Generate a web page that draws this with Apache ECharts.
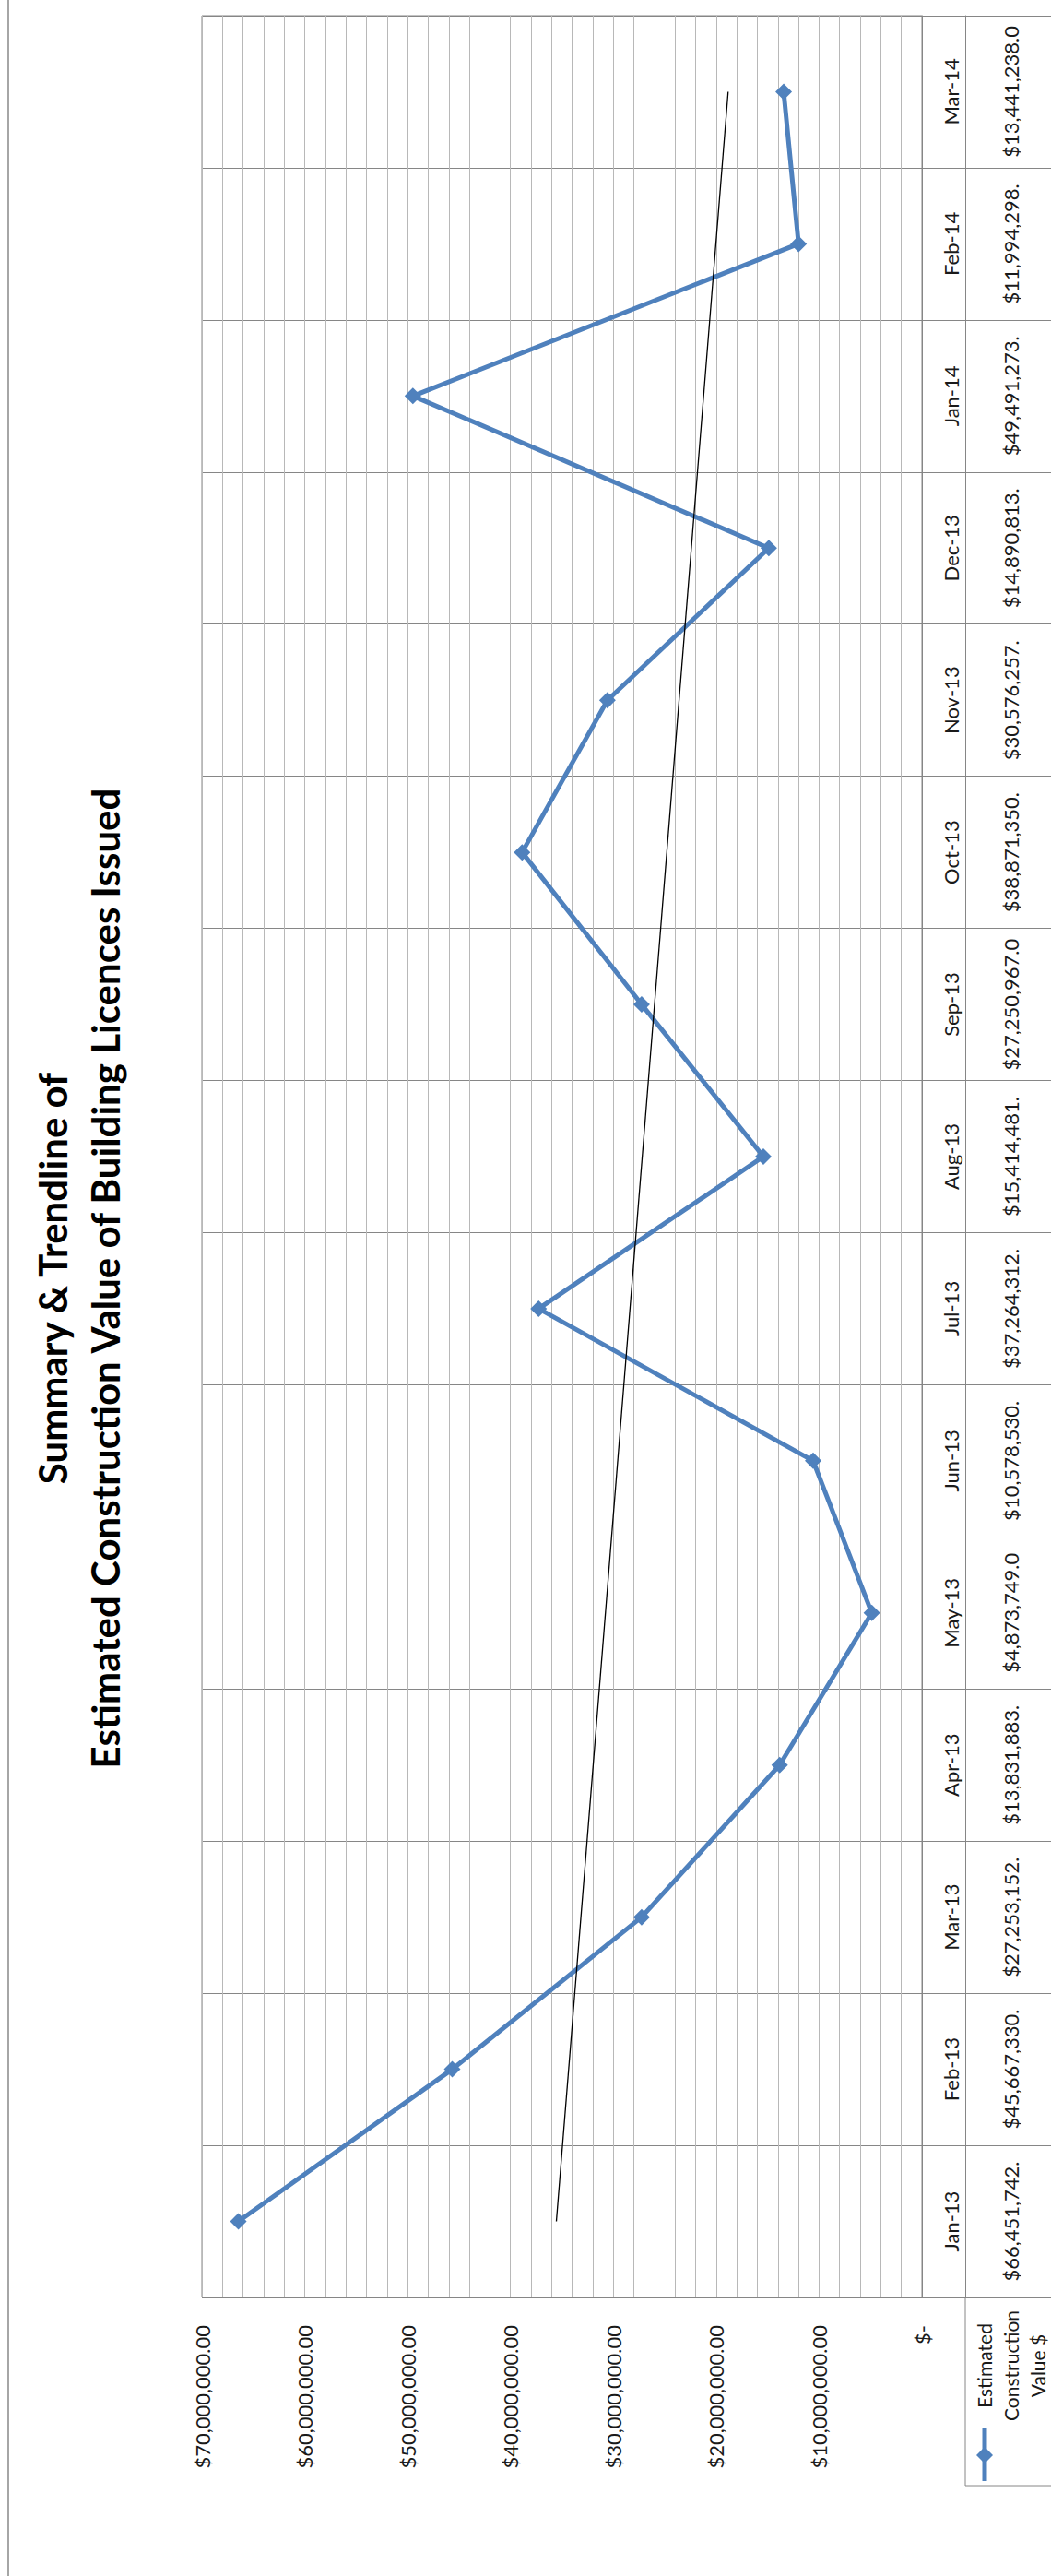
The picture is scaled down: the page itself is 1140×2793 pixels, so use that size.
<!DOCTYPE html>
<html>
<head>
<meta charset="utf-8">
<title>Summary & Trendline of Estimated Construction Value of Building Licences Issued</title>
<script src="https://cdn.jsdelivr.net/npm/echarts@6/dist/echarts.min.js"></script>
<style>
  html, body { margin: 0; padding: 0; background: #ffffff; }
  #chart { width: 1140px; height: 2793px; }
</style>
</head>
<body>
<div id="chart"></div>
<script>
// ---- data ----
const categories = ['Jan-13', 'Feb-13', 'Mar-13', 'Apr-13', 'May-13', 'Jun-13', 'Jul-13',
  'Aug-13', 'Sep-13', 'Oct-13', 'Nov-13', 'Dec-13', 'Jan-14', 'Feb-14', 'Mar-14'];
const constructionValues = [66451742, 45667330, 27253152, 13831883, 4873749, 10578530, 37264312,
  15414481, 27250967, 38871350, 30576257, 14890813, 49491273, 11994298, 13441238];
const tableText = ['$66,451,742.', '$45,667,330.', '$27,253,152.', '$13,831,883.', '$4,873,749.0',
  '$10,578,530.', '$37,264,312.', '$15,414,481.', '$27,250,967.0', '$38,871,350.', '$30,576,257.',
  '$14,890,813.', '$49,491,273.', '$11,994,298.', '$13,441,238.0'];
const trendlineEnds = [35540000, 18840000]; // trendline value at Jan-13 and at Mar-14
const valueAxisLabels = ['$-', '$10,000,000.00', '$20,000,000.00', '$30,000,000.00',
  '$40,000,000.00', '$50,000,000.00', '$60,000,000.00', '$70,000,000.00'];
const titleLines = ['Summary & Trendline of', 'Estimated Construction Value of Building Licences Issued'];
const seriesName = 'Estimated Construction Value $';
const legendLines = ['Estimated', 'Construction', 'Value $'];

// ---- chart ----
const FONT = 'Lato, "Open Sans", "DejaVu Sans", sans-serif';
const TEXT = '#1a1a1a';
const BLUE = '#4F81BD';
const GRID = '#b8b8b8';
const DARK = '#868686';

const trendData = categories.map((c, i) =>
  i === 0 ? trendlineEnds[0] : (i === categories.length - 1 ? trendlineEnds[1] : null));

const chart = echarts.init(document.getElementById('chart'), null, { renderer: 'svg' });

const option = {
  backgroundColor: '#ffffff',
  animation: false,
  textStyle: { fontFamily: FONT },
  grid: {
    left: 219, right: 140, top: 17, bottom: 302,
    show: true, borderColor: DARK, borderWidth: 1, backgroundColor: 'transparent'
  },
  xAxis: {
    type: 'value',
    min: 0, max: 70000000, interval: 10000000,
    inverse: true,
    position: 'bottom',
    axisLine: { show: false },
    axisTick: { show: false },
    minorTick: { show: false, splitNumber: 5 },
    splitLine: { show: true, lineStyle: { color: GRID, width: 1 } },
    minorSplitLine: { show: true, lineStyle: { color: GRID, width: 1 } },
    axisLabel: {
      rotate: 90, margin: 30,
      fontFamily: FONT, fontSize: 22, color: TEXT,
      formatter: (v) => valueAxisLabels[Math.round(v / 10000000)]
    }
  },
  yAxis: [
    {
      type: 'category',
      data: categories,
      position: 'right',
      offset: 17,
      boundaryGap: true,
      axisLine: { show: true, lineStyle: { color: DARK, width: 1 } },
      axisTick: { show: true, interval: 0, length: 140, lineStyle: { color: DARK, width: 1 } },
      splitLine: { show: true, interval: 0, lineStyle: { color: DARK, width: 1.2 } },
      axisLabel: {
        interval: 0, rotate: 90, margin: 3,
        fontFamily: FONT, fontSize: 22, color: TEXT
      }
    },
    {
      type: 'category',
      data: categories,
      position: 'right',
      offset: 47,
      boundaryGap: true,
      axisLine: { show: true, lineStyle: { color: DARK, width: 1 } },
      axisTick: { show: false },
      splitLine: { show: false },
      axisLabel: {
        interval: 0, rotate: 90, margin: 38,
        fontFamily: FONT, fontSize: 22, color: TEXT,
        formatter: (v, i) => tableText[i]
      }
    }
  ],
  series: [
    {
      name: seriesName,
      type: 'line',
      yAxisIndex: 0,
      data: constructionValues,
      symbol: 'diamond',
      symbolSize: 18,
      lineStyle: { color: BLUE, width: 5 },
      itemStyle: { color: BLUE },
      z: 3
    },
    {
      name: 'Trendline',
      type: 'line',
      yAxisIndex: 0,
      data: trendData,
      connectNulls: true,
      showSymbol: false,
      symbol: 'none',
      lineStyle: { color: '#000000', width: 1.3 },
      z: 4
    }
  ],
  graphic: [
    { type: 'line', shape: { x1: 9, y1: 0, x2: 9, y2: 2793 }, style: { stroke: '#a6a6a6', lineWidth: 2 }, silent: true },
    {
      type: 'text', x: 57, y: 1386, rotation: Math.PI / 2,
      style: { text: titleLines[0], font: 'bold 42px ' + FONT, fill: '#000', align: 'center', verticalAlign: 'middle' }
    },
    {
      type: 'text', x: 114, y: 1386, rotation: Math.PI / 2,
      style: { text: titleLines[1], font: 'bold 42px ' + FONT, fill: '#000', align: 'center', verticalAlign: 'middle' }
    },
    // legend key cell of the data table
    { type: 'line', shape: { x1: 1047, y1: 2491, x2: 1047, y2: 2695 }, style: { stroke: DARK, lineWidth: 1 } },
    { type: 'line', shape: { x1: 1047, y1: 2695, x2: 1140, y2: 2695 }, style: { stroke: DARK, lineWidth: 1 } },
    { type: 'line', shape: { x1: 1068, y1: 2633, x2: 1068, y2: 2690 }, style: { stroke: BLUE, lineWidth: 5 } },
    { type: 'polygon', shape: { points: [[1068, 2653], [1077, 2662], [1068, 2671], [1059, 2662]] }, style: { fill: BLUE } },
    {
      type: 'text', x: 1096, y: 2565, rotation: Math.PI / 2,
      style: { text: legendLines.join('\n'), font: '21px ' + FONT, fill: TEXT, align: 'center', verticalAlign: 'middle', lineHeight: 29 }
    }
  ]
};

chart.setOption(option);
</script>
</body>
</html>
